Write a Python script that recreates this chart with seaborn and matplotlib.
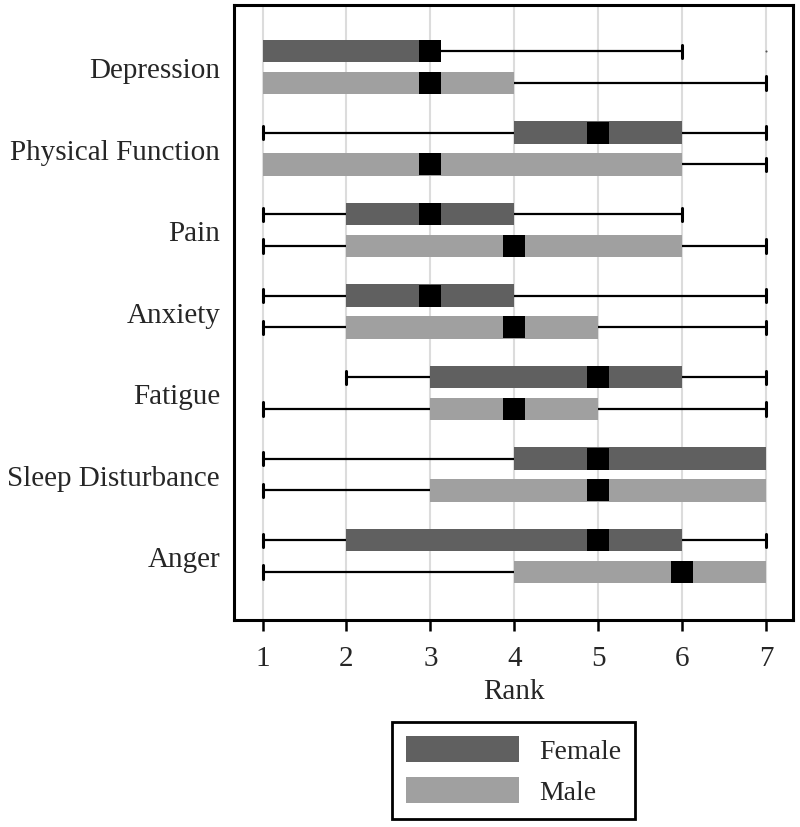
import pandas as pd
import matplotlib.pyplot as plt
import seaborn as sns
from matplotlib.patches import Patch

categories = ["Depression", "Physical Function", "Pain", "Anxiety",
              "Fatigue", "Sleep Disturbance", "Anger"]

# five-number summaries (ranks 1-7)
female_min = [1, 1, 1, 1, 2, 1, 1]
female_q1 = [1, 4, 2, 2, 3, 4, 2]
female_med = [3, 5, 3, 3, 5, 5, 5]
female_q3 = [3, 6, 4, 4, 6, 7, 6]
female_max = [6, 7, 6, 7, 7, 7, 7]
female_out = [[7], [], [], [], [], [], []]

male_min = [1, 1, 1, 1, 1, 1, 1]
male_q1 = [1, 1, 2, 2, 3, 3, 4]
male_med = [3, 3, 4, 4, 4, 5, 6]
male_q3 = [4, 6, 6, 5, 5, 7, 7]
male_max = [7, 7, 7, 7, 7, 7, 7]
male_out = [[], [], [], [], [], [], []]

sexes = ["Female", "Male"]
colors = {"Female": "#606060", "Male": "#a0a0a0"}

sns.set_style("white")
plt.rcParams['font.family'] = ['Liberation Serif', 'DejaVu Serif']

off = 0.196
stats, pos, cols, rows = [], [], [], []
for i, cat in enumerate(categories):
    for sex, lo, q1, med, q3, hi, out, d in [
            ("Female", female_min, female_q1, female_med, female_q3, female_max, female_out, -off),
            ("Male", male_min, male_q1, male_med, male_q3, male_max, male_out, off)]:
        stats.append(dict(whislo=lo[i], q1=q1[i], med=med[i], q3=q3[i],
                          whishi=hi[i], fliers=out[i]))
        pos.append(i + d)
        cols.append(colors[sex])
        rows.append({"pos": i + d, "median": med[i], "sex": sex})
med_df = pd.DataFrame(rows)

fig = plt.figure(figsize=(8, 8.28), dpi=100)
ax = fig.add_axes([0.2925, 0.25, 0.69875, 0.74275])

bp = ax.bxp(stats, positions=pos, widths=0.28, orientation='horizontal',
            patch_artist=True, capwidths=0.16,
            boxprops=dict(edgecolor='none', linewidth=0),
            whiskerprops=dict(color='black', linewidth=1.6),
            capprops=dict(color='black', linewidth=2.2),
            medianprops=dict(visible=False),
            flierprops=dict(marker='o', markersize=1.5, markerfacecolor='#555555',
                            markeredgecolor='none'))
for patch, c in zip(bp['boxes'], cols):
    patch.set_facecolor(c)
    patch.set_zorder(3)
for ln in bp['whiskers'] + bp['caps']:
    ln.set_zorder(1.5)
# no cap where the whisker has zero length
for k, st in enumerate(stats):
    if st['whislo'] == st['q1']:
        bp['caps'][2 * k].set_visible(False)
    if st['whishi'] == st['q3']:
        bp['caps'][2 * k + 1].set_visible(False)

sns.scatterplot(data=med_df, x="median", y="pos", marker='s', s=250,
                color='black', linewidth=0, ax=ax, zorder=4, legend=False)

ax.set_xlim(0.66, 7.322)
ax.set_ylim(6.785, -0.761)
ax.set_xticks(range(1, 8))
ax.set_yticks(range(len(categories)))
ax.set_yticklabels(categories)
ax.xaxis.grid(True, color='#dcdcdc', linewidth=1.5, zorder=0.5)
ax.yaxis.grid(False)
ax.set_axisbelow(True)
ax.tick_params(axis='x', bottom=True, length=8, width=1.8, pad=10,
               labelsize=21, color='black')
ax.tick_params(axis='y', left=False, length=0, pad=10, labelsize=21)
ax.set_xlabel("Rank", fontsize=21, labelpad=5)
ax.set_ylabel("")
for sp in ax.spines.values():
    sp.set_visible(True)
    sp.set_color('black')
    sp.set_linewidth(2.2)

handles = [Patch(facecolor=colors[s], edgecolor='none', label=s) for s in sexes]
leg = fig.legend(handles=handles, loc='center', bbox_to_anchor=(0.642, 0.0682),
                 fontsize=20, handlelength=4.1, handleheight=1.05,
                 handletextpad=0.72, labelspacing=0.45, borderpad=0.5,
                 frameon=True, fancybox=False, framealpha=1, edgecolor='black')
leg.get_frame().set_linewidth(2)

plt.savefig("out.png", dpi=100)
